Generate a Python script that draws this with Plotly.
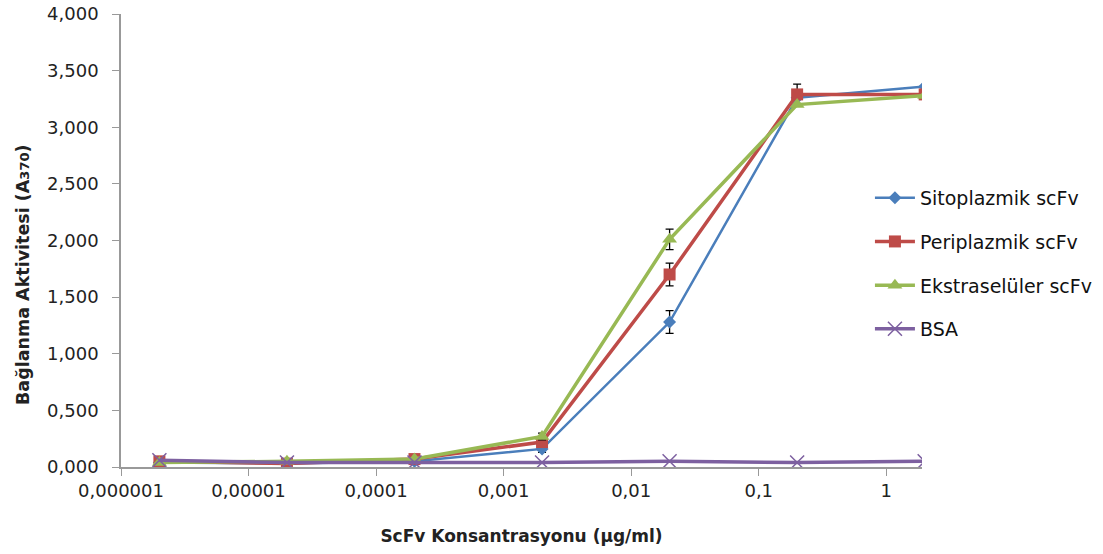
import plotly.graph_objects as go

conc = [2e-6, 2e-5, 2e-4, 2e-3, 2e-2, 0.2, 2]

names = ["Sitoplazmik scFv", "Periplazmik scFv", "Ekstraselüler scFv", "BSA"]
sito = [0.04, 0.03, 0.05, 0.16, 1.28, 3.26, 3.36]
sito_err = [None, None, None, 0.03, 0.10, None, None]
peri = [0.05, 0.03, 0.07, 0.22, 1.70, 3.29, 3.29]
peri_err = [None, None, None, 0.03, 0.10, 0.09, None]
ekst = [0.04, 0.05, 0.07, 0.27, 2.01, 3.20, 3.28]
ekst_err = [None, None, None, 0.03, 0.09, None, None]
bsa = [0.06, 0.04, 0.04, 0.04, 0.05, 0.04, 0.05]

x_ticks = [1e-6, 1e-5, 1e-4, 1e-3, 1e-2, 1e-1, 1]
x_labels = ["0,000001", "0,00001", "0,0001", "0,001", "0,01", "0,1", "1"]
y_ticks = [0, 0.5, 1.0, 1.5, 2.0, 2.5, 3.0, 3.5, 4.0]
y_labels = ["0,000", "0,500", "1,000", "1,500", "2,000", "2,500", "3,000", "3,500", "4,000"]

colors = ["#4A7EBB", "#BE4B48", "#98B954", "#7D60A0"]
symbols = ["diamond", "square", "triangle-up", "x-thin-open"]
sizes = [10, 12, 13, 14]
widths = [2.5, 3.5, 3.5, 3.5]
series = [sito, peri, ekst, bsa]
errs = [sito_err, peri_err, ekst_err, None]

fig = go.Figure()
for i in range(4):
    kw = {}
    if errs[i] is not None:
        kw["error_y"] = dict(type="data", array=errs[i], visible=True,
                             color="black", thickness=1.3, width=4)
    fig.add_trace(go.Scatter(
        x=conc, y=series[i], name=names[i], mode="lines+markers",
        legendgroup=names[i],
        line=dict(color=colors[i], width=widths[i]),
        marker=dict(symbol=symbols[i], size=sizes[i], color=colors[i],
                    line=dict(color=colors[i], width=1.5 if i == 3 else 0)),
        **kw))

font_family = "'DejaVu Sans', sans-serif"
fig.update_layout(
    width=1103, height=554,
    margin=dict(l=121, r=181, t=14, b=87, autoexpand=False),
    paper_bgcolor="white", plot_bgcolor="white",
    font=dict(family=font_family, size=18, color="#222"),
    showlegend=True,
    legend=dict(x=0.935, y=0.636, xanchor="left", yanchor="top",
                font=dict(size=19, color="#111"), tracegroupgap=16,
                itemwidth=40, bgcolor="rgba(0,0,0,0)"),
    xaxis=dict(type="log", range=[-6, 0.28], tickvals=x_ticks, ticktext=x_labels,
               showgrid=False, showline=True, linecolor="#999", linewidth=1.5,
               ticks="outside", ticklen=7, tickcolor="#999", zeroline=False,
               automargin=False,
               tickfont=dict(size=18, color="#222"),
               title=dict(text="<b>ScFv Konsantrasyonu (µg/ml)</b>",
                          font=dict(size=17, color="#222"), standoff=30)),
    yaxis=dict(range=[0, 4.0], tickvals=y_ticks, ticktext=y_labels,
               showgrid=False, showline=True, linecolor="#999", linewidth=1.5,
               ticks="outside", ticklen=7, tickcolor="#999", zeroline=False,
               ticklabelstandoff=10, automargin=False,
               tickfont=dict(size=18, color="#222")),
    annotations=[dict(
        text="<b>Bağlanma Aktivitesi (A<span style='font-size:13px'>370</span>)</b>",
        xref="paper", yref="paper", x=-0.1223, y=0.424,
        xanchor="center", yanchor="middle", textangle=-90, showarrow=False,
        font=dict(size=17.5, color="#222", family=font_family))],
)

fig.write_html("out.html")
